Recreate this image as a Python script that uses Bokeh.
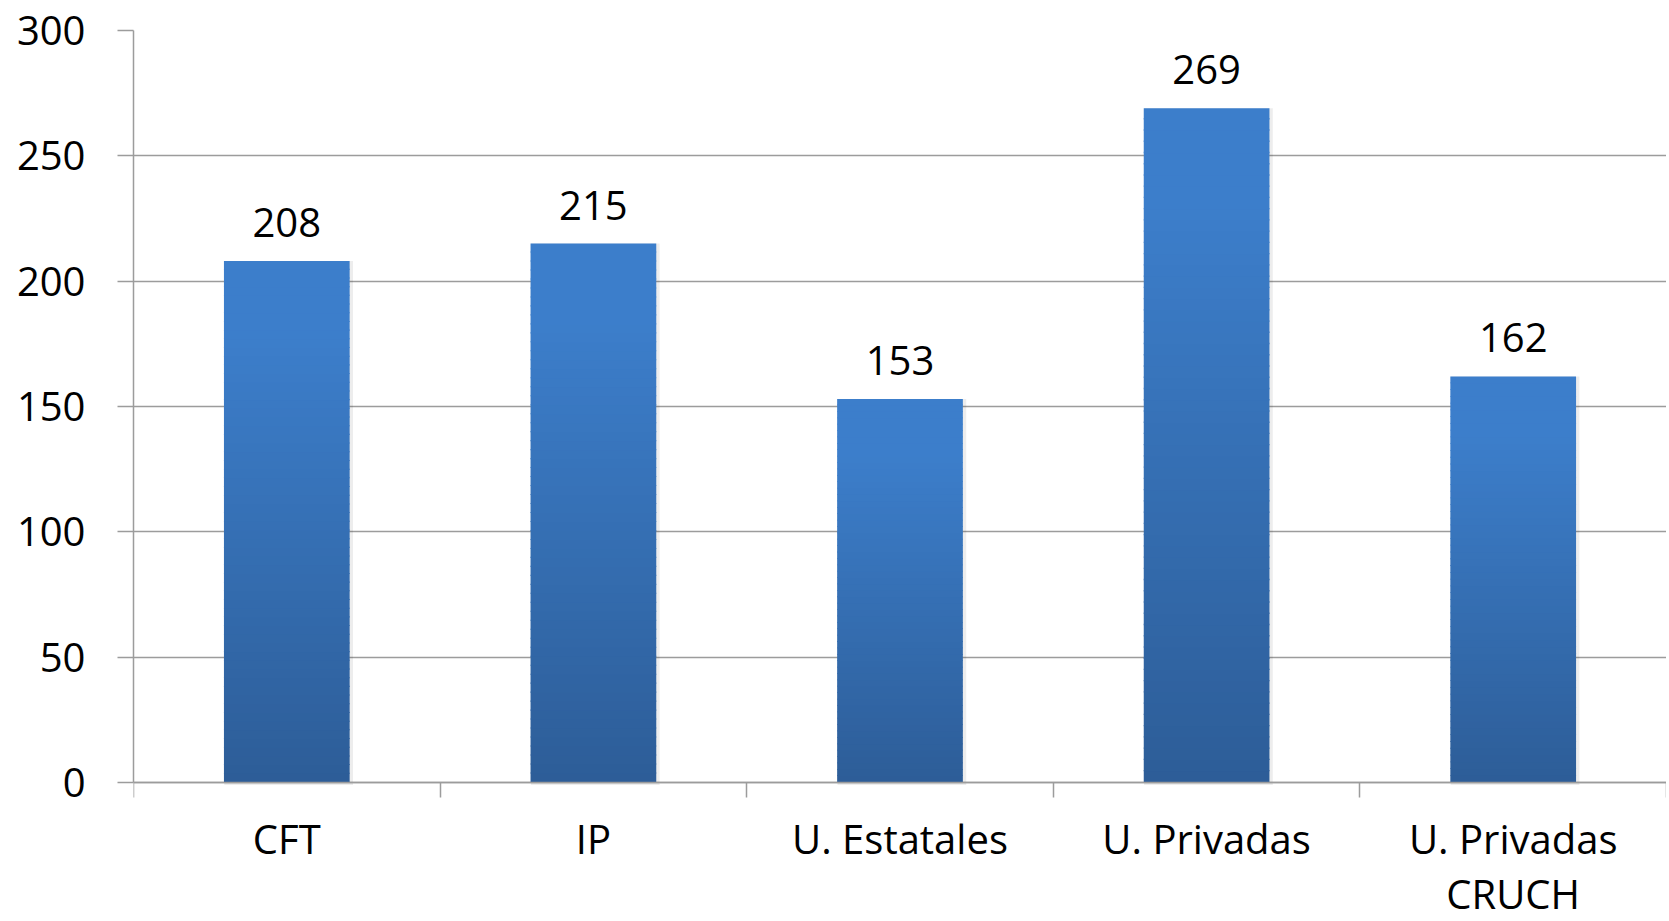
from bokeh.plotting import figure
from bokeh.models import ColumnDataSource, FixedTicker, LabelSet, Range1d, LinearAxis
from bokeh.core.properties import value
from bokeh.embed import file_html
from bokeh.resources import INLINE

categories = ["CFT", "IP", "U. Estatales", "U. Privadas", "U. Privadas\nCRUCH"]
values = [208, 215, 153, 269, 162]
y_ticks = [0, 50, 100, 150, 200, 250, 300]

FONT = "Open Sans"
GRID = "#9c9c9c"
TOP_RGB = (60, 126, 203)
BOT_RGB = (45, 93, 151)

n = len(categories)
centers = [i + 0.5 for i in range(n)]

# frame: 300 at y=30px, 0 at y=782px, frame bottom at 921px
Y_MIN = -139 * 300 / 752

p = figure(width=1666, height=921, x_range=Range1d(0, n), y_range=Range1d(Y_MIN, 300),
           output_backend="svg", toolbar_location=None, x_axis_location=None,
           min_border_left=133, min_border_right=0, min_border_top=30, min_border_bottom=0)
p.outline_line_color = None
p.background_fill_color = "white"
p.border_fill_color = "white"

# subtle shadow
p.vbar(x=[c + 0.006 for c in centers], top=values, bottom=[-1.0] * n, width=0.42,
       fill_color="black", fill_alpha=0.07, line_color=None)

# gradient bars via slices
N = 60
xs, bots, tops, cols = [], [], [], []
for c, v in zip(centers, values):
    for k in range(N):
        t = (k + 0.5) / N  # 0 bottom -> 1 top
        f = min(1.0, t / 0.85)
        r = round(BOT_RGB[0] + (TOP_RGB[0] - BOT_RGB[0]) * f)
        g = round(BOT_RGB[1] + (TOP_RGB[1] - BOT_RGB[1]) * f)
        b = round(BOT_RGB[2] + (TOP_RGB[2] - BOT_RGB[2]) * f)
        xs.append(c)
        bots.append(v * k / N)
        tops.append(v * (k + 1) / N + (0 if k == N - 1 else v * 0.002))
        cols.append("#%02x%02x%02x" % (r, g, b))
src = ColumnDataSource(dict(x=xs, bottom=bots, top=tops, color=cols))
p.vbar(x="x", bottom="bottom", top="top", width=0.41, fill_color="color",
       line_color=None, source=src)

lab_src = ColumnDataSource(dict(x=centers, y=values, t=[str(v) for v in values]))
p.add_layout(LabelSet(x="x", y="y", text="t", source=lab_src, y_offset=24,
                      text_align="center", text_baseline="alphabetic",
                      text_font=value(FONT), text_font_size=value("40px"),
                      text_color=value("black")))

# grid
p.xgrid.grid_line_color = None
p.ygrid.ticker = FixedTicker(ticks=y_ticks)
p.ygrid.grid_line_color = GRID
p.ygrid.grid_line_width = 1.5

# y axis
ya = p.yaxis[0]
ya.ticker = FixedTicker(ticks=y_ticks, minor_ticks=[])
ya.bounds = (0, 300)
ya.axis_line_color = GRID
ya.axis_line_width = 1.5
ya.major_tick_line_color = GRID
ya.major_tick_line_width = 1.5
ya.major_tick_out = 16
ya.major_tick_in = 0
ya.minor_tick_line_color = None
ya.major_label_standoff = 32
ya.major_label_text_font = FONT
ya.major_label_text_font_size = "40px"
ya.major_label_text_color = "black"

# x axis at y=0 (category boundary ticks, names at centers)
xa = LinearAxis(fixed_location=0)
xa.ticker = FixedTicker(ticks=centers, minor_ticks=[float(i) for i in range(n + 1)])
xa.major_label_overrides = {c: lbl for c, lbl in zip(centers, categories)}
xa.axis_line_color = GRID
xa.axis_line_width = 1.5
xa.major_tick_line_color = None
xa.major_tick_out = 15
xa.major_tick_in = 0
xa.minor_tick_line_color = GRID
xa.minor_tick_line_width = 1.5
xa.minor_tick_out = 15
xa.minor_tick_in = 0
xa.major_label_standoff = 13
xa.major_label_text_font = FONT
xa.major_label_text_font_size = "40px"
xa.major_label_text_line_height = 1.0
xa.major_label_text_color = "black"
p.add_layout(xa, "below")

open("out.html", "w").write(file_html(p, INLINE))
